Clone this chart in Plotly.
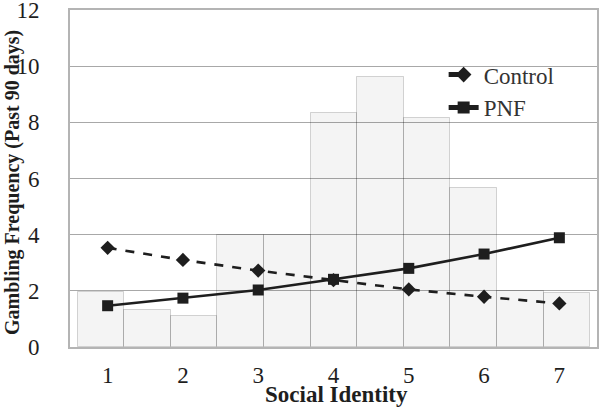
import numpy as np
import plotly.graph_objects as go

# Data
social_identity = [1, 2, 3, 4, 5, 6, 7]
control = [3.53, 3.10, 2.72, 2.38, 2.05, 1.79, 1.55]
pnf = [1.47, 1.74, 2.03, 2.41, 2.80, 3.31, 3.89]
# background distribution (11 bins spanning the social identity scale)
hist_counts = [1.95, 1.30, 1.10, 4.00, 4.00, 8.35, 9.60, 8.15, 5.65, 2.00, 1.92]
hist_range = (0.60, 7.41)
y_ticks = [0, 2, 4, 6, 8, 10, 12]

edges = np.linspace(hist_range[0], hist_range[1], len(hist_counts) + 1)
centers = (edges[:-1] + edges[1:]) / 2
widths = np.diff(edges)

FONT = "Liberation Serif, Times New Roman, serif"
INK = "#1e1e1e"

fig = go.Figure()
# translucent fill so the horizontal gridlines stay visible through the bars
fig.add_trace(go.Bar(
    x=centers, y=hist_counts, width=widths,
    marker=dict(color="rgba(0,0,0,0.045)", line=dict(color="rgba(0,0,0,0.16)", width=1)),
    showlegend=False, hoverinfo="skip"))
fig.add_trace(go.Scatter(
    x=social_identity, y=control, name="Control", mode="lines+markers",
    line=dict(color=INK, width=2.6, dash="dash"),
    marker=dict(symbol="diamond", size=11, color=INK)))
fig.add_trace(go.Scatter(
    x=social_identity, y=pnf, name="PNF", mode="lines+markers",
    line=dict(color=INK, width=2.6),
    marker=dict(symbol="square", size=11, color=INK)))

fig.update_layout(
    width=600, height=411,
    margin=dict(l=70, r=3, t=10, b=64),
    paper_bgcolor="white", plot_bgcolor="white",
    font=dict(family=FONT, color=INK),
    bargap=0,
    legend=dict(x=0.709, y=0.872, xanchor="left", yanchor="top",
                font=dict(size=23, family=FONT, color="#333"),
                bgcolor="rgba(0,0,0,0)", tracegroupgap=0, itemsizing="constant"),
    xaxis=dict(range=[0.5, 7.5], tickvals=social_identity,
               ticktext=[str(v) for v in social_identity],
               showgrid=False, zeroline=False, automargin=False,
               showline=True, linecolor="#b4b4b4", linewidth=2, mirror=True,
               ticks="outside", ticklen=6, tickcolor="rgba(0,0,0,0)",
               tickfont=dict(size=23, family=FONT, color=INK)),
    yaxis=dict(range=[0, 12], tickvals=y_ticks,
               ticktext=[str(v) for v in y_ticks],
               showgrid=True, gridcolor="#a8a8a8", gridwidth=1, zeroline=False,
               automargin=False, ticklabeloverflow="allow",
               showline=True, linecolor="#b4b4b4", linewidth=2, mirror=True,
               ticks="outside", ticklen=24, tickcolor="rgba(0,0,0,0)",
               tickfont=dict(size=23, family=FONT, color=INK)),
    annotations=[
        dict(text="<b>Social Identity</b>", xref="paper", yref="paper",
             x=0.506, y=-0.142, xanchor="center", yanchor="middle", showarrow=False,
             font=dict(size=23, family=FONT, color=INK)),
        dict(text="<b>Gambling Frequency (Past 90 days)</b>", xref="paper", yref="paper",
             x=-0.108, y=0.487, xanchor="center", yanchor="middle", showarrow=False,
             textangle=-90, font=dict(size=20, family=FONT, color=INK)),
    ],
)

fig.write_html("out.html", config={"displayModeBar": False},
               post_script="document.body.style.margin='0';")
